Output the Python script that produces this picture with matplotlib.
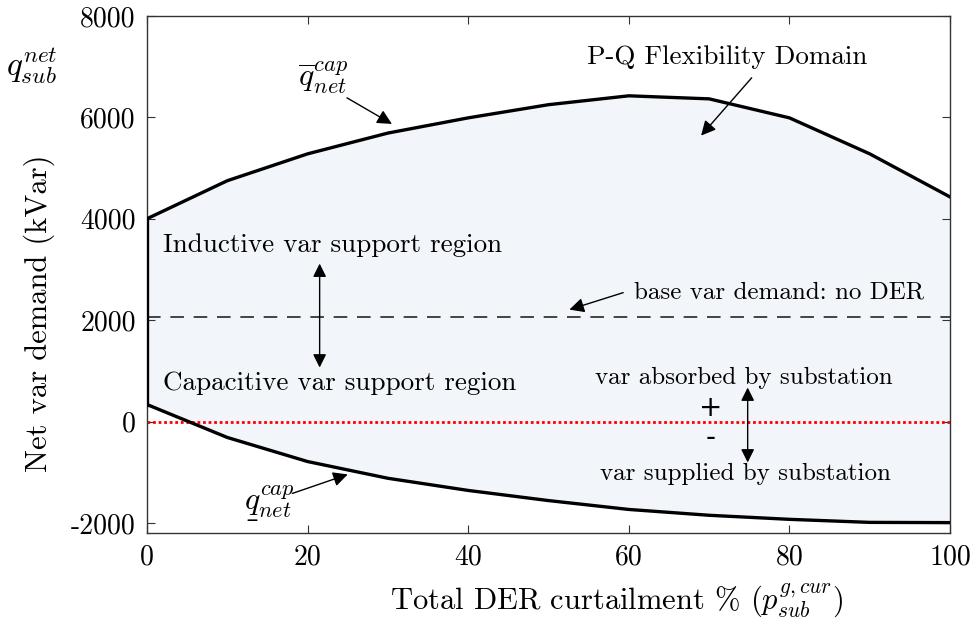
import matplotlib
matplotlib.use("Agg")
import matplotlib.pyplot as plt
import numpy as np

plt.rcParams['font.family'] = 'serif'
plt.rcParams['font.serif'] = ['cmr10', 'DejaVu Serif']
plt.rcParams['mathtext.fontset'] = 'cm'
plt.rcParams['axes.unicode_minus'] = False
plt.rcParams['axes.formatter.use_mathtext'] = True

curtail = [0, 10, 20, 30, 40, 50, 60, 70, 80, 90, 100]
q_upper = [4000, 4750, 5280, 5690, 5990, 6250, 6425, 6365, 5990, 5280, 4430]
q_lower = [335, -315, -790, -1120, -1360, -1560, -1735, -1850, -1930, -1990, -1995]
base_demand = 2070
xticks = [0, 20, 40, 60, 80, 100]
yticks = [-2000, 0, 2000, 4000, 6000, 8000]

fig = plt.figure(figsize=(9.76, 6.24), dpi=100)
ax = fig.add_axes([0.1506, 0.1458, 0.8228, 0.8286])

ax.fill_between(curtail, q_lower, q_upper, color='#f2f6fb', zorder=1)
ax.plot(curtail, q_upper, color='black', lw=2.4, zorder=3)
ax.plot(curtail, q_lower, color='black', lw=2.4, zorder=3)
ax.plot([curtail[0], curtail[0]], [q_lower[0], q_upper[0]], color='black', lw=2.4, zorder=3)
ax.axhline(base_demand, color='#444444', lw=1.4, ls=(0, (7, 5)), zorder=2)
ax.axhline(0, color='red', lw=2.0, ls=(0, (1, 1)), zorder=2)

ax.set_xlim(0, 100)
ax.set_ylim(-2200, 8000)
ax.set_xticks(xticks)
ax.set_yticks(yticks)
ax.set_xticklabels([str(v) for v in xticks])
ax.set_yticklabels([str(v) for v in yticks])
ax.tick_params(direction='in', top=True, right=True, labelsize=20, length=6, color='#333333', pad=8)
for s in ax.spines.values():
    s.set_color('#333333')
    s.set_linewidth(1.0)

ax.set_xlabel(r'Total DER curtailment % ($p_{sub}^{g,cur}$)', fontsize=22)
ax.xaxis.set_label_coords(0.585, -0.092)
ax.set_ylabel('Net var demand (kVar)', fontsize=22)
ax.yaxis.set_label_coords(-0.114, 0.425)
fig.text(0.033, 0.895, r'$q_{sub}^{net}$', fontsize=24, ha='center', va='center')

ap = dict(arrowstyle='-|>', color='black', lw=1.0, mutation_scale=22, shrinkA=0, shrinkB=0)
ap2 = dict(arrowstyle='<|-|>', color='black', lw=1.0, mutation_scale=20, shrinkA=0, shrinkB=0)

ax.text(72.2, 7180, 'P-Q Flexibility Domain', fontsize=19.5, ha='center', va='center')
ax.annotate('', xy=(69.0, 5640), xytext=(75.3, 6780), arrowprops=ap)

ax.text(21.9, 6780, r'$\overline{q}_{net}^{cap}$', fontsize=23, ha='center', va='center')
ax.annotate('', xy=(30.5, 5870), xytext=(24.9, 6385), arrowprops=ap)

ax.text(15.25, -1580, r'$q_{net}^{cap}$', fontsize=23, ha='center', va='center')
ax.annotate(r'$\_$', xy=(15.25, -1580), xytext=(-12.5, -8.5), textcoords='offset points',
            fontsize=18, ha='center', va='center')
ax.annotate('', xy=(25.0, -1044), xytext=(18.1, -1419), arrowprops=ap)

ax.text(2, 3470, 'Inductive var support region', fontsize=19.5, ha='left', va='center')
ax.text(2, 750, 'Capacitive var support region', fontsize=19.5, ha='left', va='center')
ax.annotate('', xy=(21.5, 3115), xytext=(21.5, 1065), arrowprops=ap2)

ax.text(60.6, 2540, 'base var demand: no DER', fontsize=18, ha='left', va='center')
ax.annotate('', xy=(52.6, 2207), xytext=(59.3, 2542), arrowprops=ap)

ax.text(74.3, 850, 'var absorbed by substation', fontsize=18, ha='center', va='center')
ax.text(74.5, -1040, 'var supplied by substation', fontsize=18, ha='center', va='center')
ax.text(70.2, 270, '+', fontsize=20, ha='center', va='center', family='DejaVu Sans')
ax.text(70.2, -330, '-', fontsize=20, ha='center', va='center', family='DejaVu Sans')
ax.annotate('', xy=(74.8, 670), xytext=(74.8, -808), arrowprops=ap2)

fig.savefig('out.png', dpi=100)
